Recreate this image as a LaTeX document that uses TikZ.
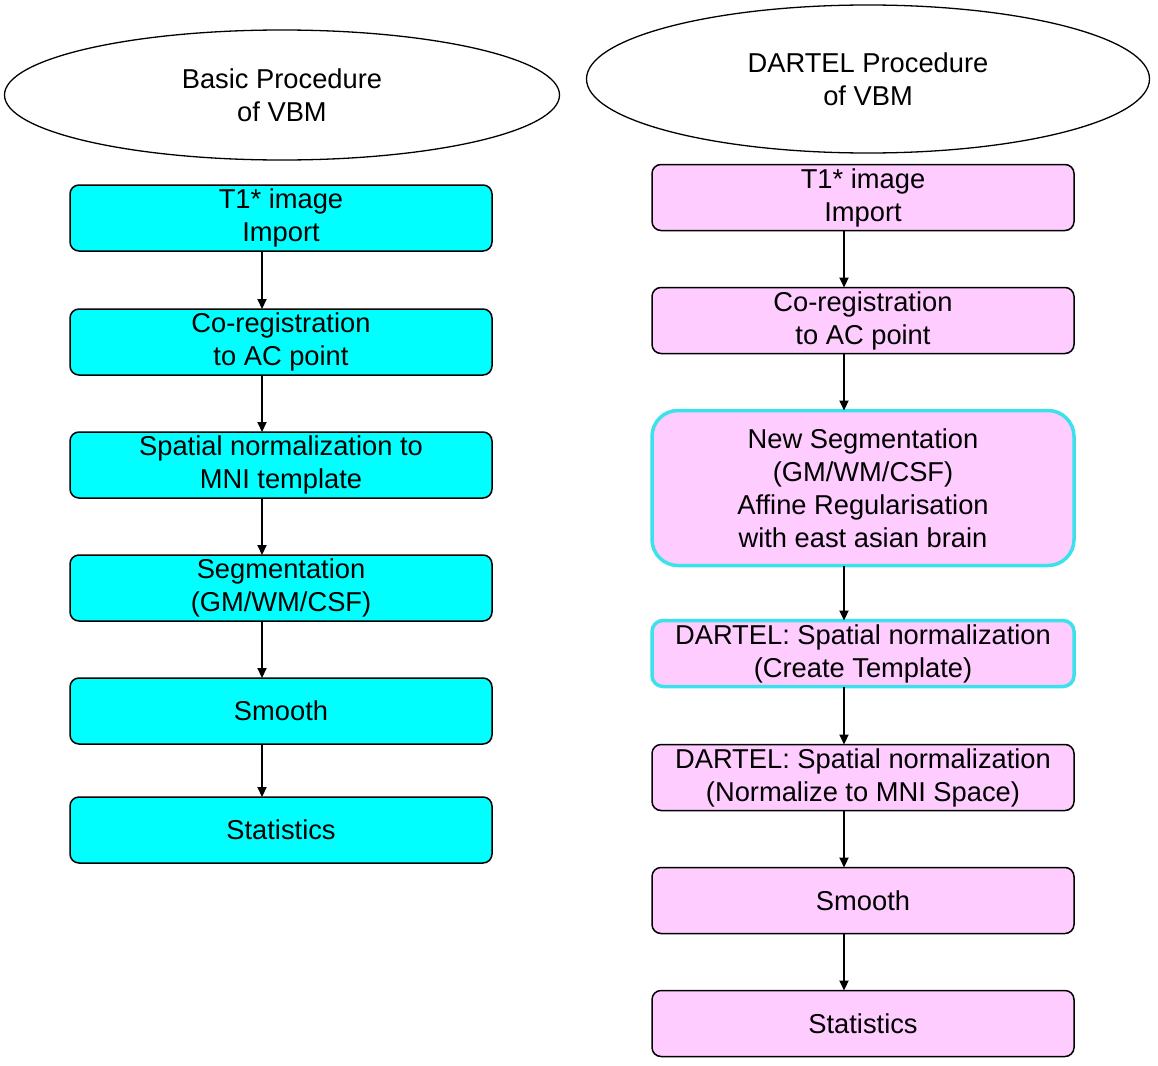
\documentclass[tikz,border=0pt]{standalone}
\usepackage{fontspec}
\setmainfont{Liberation Sans}
\usepackage{tikz}
\usetikzlibrary{
  positioning,
  arrows.meta,
  shapes.geometric
}
\definecolor{boxcyan}{RGB}{0,255,255}
\definecolor{boxpink}{RGB}{255,204,255}
\definecolor{rimcyan}{RGB}{60,225,235}
\tikzset{
  title/.style={
    draw,
    ellipse,
    line width=1.3pt,
    align=center,
    inner sep=0pt,
  },
  stage/.style={
    draw,
    rounded corners=9pt,
    line width=1.5pt,
    outer sep=0pt,
    minimum width=422pt,
    minimum height=66pt,
    inner sep=0pt,
    align=center,
  },
  basic/.style={
    stage,
    fill=boxcyan,
  },
  dartel/.style={
    stage,
    fill=boxpink,
  },
  marked/.style={
    dartel,
    draw=rimcyan,
    line width=3.5pt,
  },
  flow/.style={
    -{Triangle[length=10pt,width=9pt]},
    line width=2.1pt,
  },
}

\begin{document}
\begin{tikzpicture}[x=1pt,y=-1pt,node distance=57pt]
		\fontsize{27.3}{33}\selectfont
		\def\off{-19pt}
		\useasboundingbox (0,0) rectangle (1158,1065);

		% headings
		\node[title,minimum width=555pt,minimum height=130pt] (hleft) at (282,95) {Basic Procedure\\of VBM};
		\node[title,minimum width=563pt,minimum height=148pt] (hright) at (868,79) {DARTEL Procedure\\of VBM};

		% basic procedure
		\node[basic] (b1) at (281,218) {T1* image\\Import};
		\node[basic,below=58pt of b1] (b2) {Co-registration\\to AC point};
		\node[basic,below=of b2] (b3) {Spatial normalization to\\MNI template};
		\node[basic,below=of b3] (b4) {Segmentation\\(GM/WM/CSF)};
		\node[basic,below=of b4] (b5) {Smooth};
		\node[basic,below=53pt of b5] (b6) {Statistics};

		% dartel procedure
		\node[dartel] (r1) at (863,197.5) {T1* image\\Import};
		\node[dartel,below=of r1] (r2) {Co-registration\\to AC point};
		\node[marked,below=of r2,minimum height=155pt,rounded corners=26pt] (r3) {New Segmentation\\(GM/WM/CSF)\\Affine Regularisation\\with east asian brain};
		\node[marked,below=55pt of r3,minimum height=66pt,rounded corners=11pt] (r4) {DARTEL: Spatial normalization\\(Create Template)};
		\node[dartel,below=58pt of r4] (r5) {DARTEL: Spatial normalization\\(Normalize to MNI Space)};
		\node[dartel,below=of r5] (r6) {Smooth};
		\node[dartel,below=of r6] (r7) {Statistics};

		% arrows
		\foreach \a/\b in {b1/b2,b2/b3,b3/b4,b4/b5,b5/b6,r1/r2,r2/r3,r3/r4,r4/r5,r5/r6,r6/r7}
			\draw[flow] ([xshift=\off]\a.south) -- ([xshift=\off]\b.north);
	\end{tikzpicture}
\end{document}
